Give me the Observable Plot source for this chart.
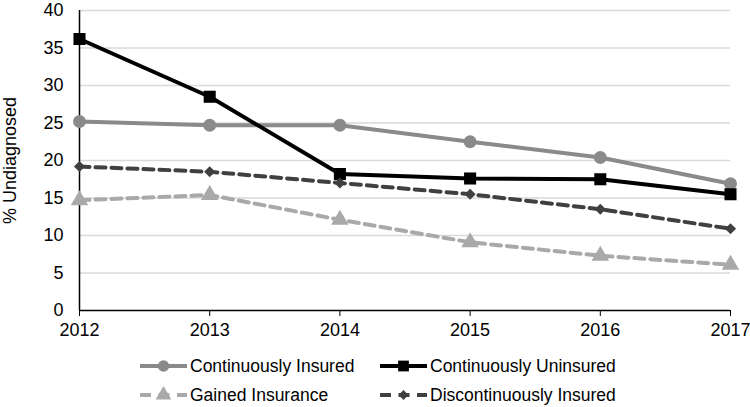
<!DOCTYPE html>
<html>
<head>
<meta charset="utf-8">
<script src="https://cdn.jsdelivr.net/npm/d3@7"></script>
<script src="https://cdn.jsdelivr.net/npm/@observablehq/plot@0.6"></script>
<style>
  body { margin: 0; background: #fff; font-family: "Liberation Sans", Arial, sans-serif; }
  #chart svg { display: block; }
  .legend { display: grid; grid-template-columns: 240px 270px; margin-left: 140px; row-gap: 7px; margin-top: 15px; }
  .item { display: flex; align-items: center; font-size: 17.5px; color: #000; height: 22px; }
  .item svg { margin-right: 3px; }
</style>
</head>
<body>
<div id="chart"></div>
<div class="legend" id="legend"></div>
<script>
const years = [2012, 2013, 2014, 2015, 2016, 2017];
const seriesNames = ["Continuously Insured", "Continuously Uninsured", "Gained Insurance", "Discontinuously Insured"];
const continuouslyInsured = [25.2, 24.7, 24.7, 22.5, 20.4, 16.9];
const continuouslyUninsured = [36.2, 28.5, 18.2, 17.6, 17.5, 15.5];
const gainedInsurance = [14.7, 15.4, 12.1, 9.1, 7.3, 6.1];
const discontinuouslyInsured = [19.2, 18.5, 17.0, 15.5, 13.5, 10.9];
const yTicks = [0, 5, 10, 15, 20, 25, 30, 35, 40];

const styles = {
  "Continuously Insured": {color: "#8a8a8a", symbol: "circle", dash: null, r: 6.5},
  "Continuously Uninsured": {color: "#000000", symbol: "square", dash: null, r: 6.8},
  "Gained Insurance": {color: "#a9a9a9", symbol: "triangle", dash: "10,6", r: 6.5},
  "Discontinuously Insured": {color: "#404040", symbol: "diamond2", dash: "10,6", r: 5}
};
const valuesBySeries = [continuouslyInsured, continuouslyUninsured, gainedInsurance, discontinuouslyInsured];
const data = seriesNames.flatMap((s, i) => years.map((y, j) => ({series: s, year: y, value: valuesBySeries[i][j]})));

const marks = [
  Plot.ruleY(yTicks.filter(d => d > 0), {stroke: "#d9d9d9", strokeWidth: 1.5}),
  Plot.axisY({ticks: yTicks, tickSize: 0, tickPadding: 16, fontSize: 18, label: "% Undiagnosed", labelAnchor: "center", labelArrow: "none", labelOffset: 76}),
  Plot.axisX({ticks: years, tickFormat: "d", tickSize: 6, tickPadding: 7, fontSize: 18, label: null}),
  Plot.ruleY([0], {stroke: "#000", strokeWidth: 1.5}),
  Plot.ruleX([2012], {stroke: "#000", strokeWidth: 1.5})
];
for (const s of seriesNames) {
  const st = styles[s];
  const d = data.filter(e => e.series === s);
  marks.push(Plot.line(d, {x: "year", y: "value", stroke: st.color, strokeWidth: 4, strokeDasharray: st.dash}));
}
for (const s of seriesNames) {
  const st = styles[s];
  const d = data.filter(e => e.series === s);
  marks.push(Plot.dot(d, {x: "year", y: "value", fill: st.color, symbol: st.symbol, r: st.r, stroke: "none"}));
}

const chart = Plot.plot({
  width: 750,
  height: 340,
  marginLeft: 79,
  marginRight: 20,
  marginTop: 10,
  marginBottom: 30,
  style: {fontFamily: "Liberation Sans, Arial, sans-serif", fontSize: "18px", color: "#000", background: "#fff"},
  x: {domain: [2012, 2017]},
  y: {domain: [0, 40]},
  marks
});
document.getElementById("chart").appendChild(chart);

const legend = document.getElementById("legend");
const symPath = {circle: d3.symbolCircle, square: d3.symbolSquare, triangle: d3.symbolTriangle, diamond2: d3.symbolDiamond2};
for (const s of seriesNames) {
  const st = styles[s];
  const item = document.createElement("div");
  item.className = "item";
  const svg = d3.create("svg").attr("width", 47).attr("height", 20);
  svg.append("line").attr("x1", 0).attr("x2", 47).attr("y1", 10).attr("y2", 10)
    .attr("stroke", st.color).attr("stroke-width", 4).attr("stroke-dasharray", st.dash ? "11,7.5" : null);
  svg.append("path").attr("transform", "translate(23.5,10)")
    .attr("d", d3.symbol(symPath[st.symbol], Math.PI * st.r * st.r * 0.8)()).attr("fill", st.color);
  item.appendChild(svg.node());
  const t = document.createElement("span");
  t.textContent = s;
  item.appendChild(t);
  legend.appendChild(item);
}
</script>
</body>
</html>
